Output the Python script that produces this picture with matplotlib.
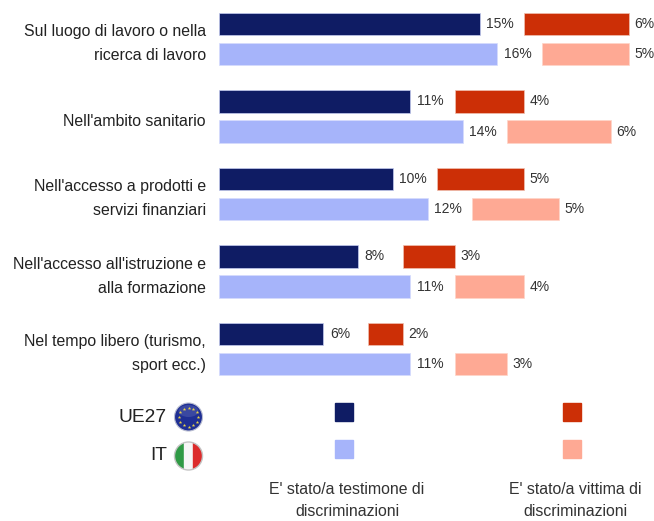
import matplotlib
matplotlib.use("Agg")
import matplotlib.pyplot as plt
from matplotlib.patches import Circle, Rectangle, Ellipse
import numpy as np

plt.rcParams['font.family'] = ['Liberation Sans', 'DejaVu Sans']

categories = ["Sul luogo di lavoro o nella\nricerca di lavoro",
              "Nell'ambito sanitario",
              "Nell'accesso a prodotti e\nservizi finanziari",
              "Nell'accesso all'istruzione e\nalla formazione",
              "Nel tempo libero (turismo,\nsport ecc.)"]
witness_eu = [15, 11, 10, 8, 6]
witness_it = [16, 14, 12, 11, 11]
victim_eu = [6, 4, 5, 3, 2]
victim_it = [5, 6, 5, 4, 3]

DARK_BLUE = '#0f1c64'
LIGHT_BLUE = '#a6b4fa'
DARK_RED = '#cc2f06'
LIGHT_RED = '#fea994'
TEXT = '#333333'

fig = plt.figure(figsize=(6.54, 5.21), dpi=100)
ax = fig.add_axes([0, 0, 1, 1])
unit = 17.4
ax.set_xlim(-219 / unit, 435 / unit)
ax.set_ylim((521 - 39) / 77.5, -39 / 77.5)
ax.axis('off')

gap = 2.55
for i in range(len(categories)):
    ye = i - 0.194
    yi = i + 0.194
    ax.barh(ye, witness_eu[i], height=0.295, color=DARK_BLUE, edgecolor='#c4cbf0', linewidth=0.5)
    ax.barh(yi, witness_it[i], height=0.295, color=LIGHT_BLUE, edgecolor='#d5dbfc', linewidth=0.5)
    ax.barh(ye, victim_eu[i], left=witness_eu[i] + gap, height=0.295, color=DARK_RED, edgecolor='#f0c0b0', linewidth=0.5)
    ax.barh(yi, victim_it[i], left=witness_it[i] + gap, height=0.295, color=LIGHT_RED, edgecolor='#ffd5c8', linewidth=0.5)
    ax.text(witness_eu[i] + 0.37, ye, f"{witness_eu[i]}%", va='center', ha='left', fontsize=10, color=TEXT)
    ax.text(witness_it[i] + 0.37, yi, f"{witness_it[i]}%", va='center', ha='left', fontsize=10, color=TEXT)
    ax.text(witness_eu[i] + gap + victim_eu[i] + 0.3, ye, f"{victim_eu[i]}%", va='center', ha='left', fontsize=10, color=TEXT)
    ax.text(witness_it[i] + gap + victim_it[i] + 0.3, yi, f"{victim_it[i]}%", va='center', ha='left', fontsize=10, color=TEXT)
    ax.text(-0.75, i + 0.06, categories[i], ha='right', va='center', fontsize=11.4, color='#222222', linespacing=1.77)

# legend and flags, in pixels
lg = fig.add_axes([0, 0, 1, 1])
lg.set_xlim(0, 654)
lg.set_ylim(521, 0)
lg.axis('off')
lg.patch.set_alpha(0)

lg.add_patch(Rectangle((335, 403), 18, 18, color=DARK_BLUE))
lg.add_patch(Rectangle((335, 440), 18, 18, color=LIGHT_BLUE))
lg.add_patch(Rectangle((563, 403), 18, 18, color=DARK_RED))
lg.add_patch(Rectangle((563, 440), 18, 18, color=LIGHT_RED))

lg.text(167, 417, "UE27", ha='right', va='center', fontsize=13.8, color='#222222')
lg.text(167, 456, "IT", ha='right', va='center', fontsize=13.8, color='#222222')
lg.text(347, 500.5, "E' stato/a testimone di\ndiscriminazioni", ha='center', va='center', fontsize=11.4, color=TEXT, linespacing=1.65)
lg.text(575, 500.5, "E' stato/a vittima di\ndiscriminazioni", ha='center', va='center', fontsize=11.4, color=TEXT, linespacing=1.65)

# EU flag
lg.add_patch(Circle((188.5, 417), 14, facecolor='#1f2f94', edgecolor='#b8bcd0', linewidth=0.8))
lg.add_patch(Ellipse((188.5, 411), 20, 12, facecolor='white', alpha=0.12, linewidth=0))
ang = np.arange(12) * np.pi / 6
lg.scatter(188.5 + 9.5 * np.cos(ang), 417 + 9.5 * np.sin(ang), marker='*', s=7, color='#e8d24a', linewidths=0)

# IT flag
clip = Circle((188.5, 456), 14, transform=lg.transData)
for x0, col in ((174, '#2f9a45'), (184, '#f6f6f6'), (193, '#dc2b2b')):
    r = Rectangle((x0, 442), 10, 28, color=col)
    lg.add_patch(r)
    r.set_clip_path(clip)
lg.add_patch(Circle((188.5, 456), 14, facecolor='none', edgecolor='#c4c4c4', linewidth=1))

fig.savefig('out.png', dpi=100)
